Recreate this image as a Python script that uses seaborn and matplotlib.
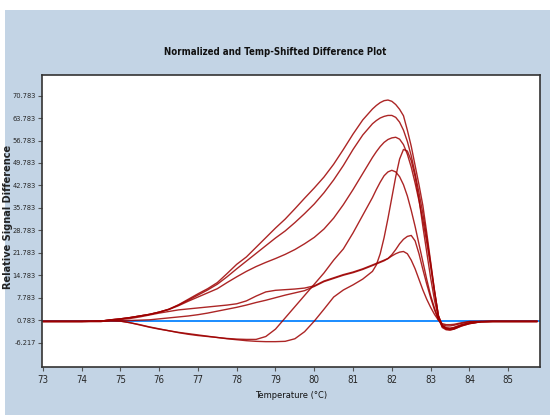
import numpy as np
import pandas as pd
import matplotlib
matplotlib.use("Agg")
import matplotlib.pyplot as plt
from matplotlib import font_manager
from matplotlib.patches import Rectangle
import seaborn as sns

# Temperatures (deg C) shared by all samples
temps = [73.0, 73.5, 74.0, 74.5, 74.75, 75.0, 75.25, 75.5, 75.75, 76.0, 76.25, 76.5, 76.75,
         77.0, 77.25, 77.5, 77.75, 78.0, 78.25, 78.5, 78.75, 79.0, 79.25, 79.5, 79.75,
         80.0, 80.25, 80.5, 80.75, 81.0, 81.25, 81.5, 81.6, 81.7, 81.8, 81.9, 82.0, 82.1,
         82.2, 82.3, 82.4, 82.5, 82.6, 82.7, 82.8, 82.9, 83.0, 83.1, 83.2, 83.3, 83.4,
         83.5, 83.6, 83.8, 84.0, 84.3, 84.6, 85.0, 85.4, 85.75]

sample_a = [0.4, 0.4, 0.4, 0.5, 0.9, 1.2, 1.6, 2.1, 2.6, 3.3, 4.2, 5.6, 7.3,
            9.0, 10.6, 12.5, 15.3, 18.2, 20.5, 23.5, 26.5, 29.5, 32.3, 35.5, 38.8,
            42.0, 45.4, 49.4, 54.0, 58.8, 63.2, 66.6, 67.7, 68.6, 69.2, 69.4, 69.0, 68.0,
            66.5, 64.5, 60.0, 55.0, 49.0, 43.0, 36.5, 28.0, 19.0, 10.0, 2.2, -0.8, -1.6,
            -1.8, -1.5, -0.6, 0.0, 0.4, 0.4, 0.4, 0.4, 0.4]

sample_b = [0.4, 0.4, 0.4, 0.5, 0.9, 1.2, 1.6, 2.1, 2.6, 3.3, 4.2, 5.5, 7.0,
            8.6, 10.2, 12.0, 14.3, 16.8, 19.2, 21.6, 24.0, 26.4, 28.6, 31.2, 34.0,
            37.0, 40.5, 44.5, 49.0, 54.0, 58.5, 62.0, 63.0, 63.8, 64.3, 64.6, 64.6, 64.0,
            62.5, 60.0, 56.5, 52.0, 46.5, 40.5, 34.0, 26.5, 18.5, 10.0, 2.2, -1.0, -1.8,
            -2.0, -1.8, -0.8, -0.2, 0.3, 0.4, 0.4, 0.4, 0.4]

sample_c = [0.4, 0.4, 0.4, 0.5, 0.9, 1.2, 1.6, 2.1, 2.6, 3.3, 4.1, 5.3, 6.7,
            8.0, 9.3, 10.6, 12.5, 14.3, 16.0, 17.5, 18.8, 20.0, 21.3, 22.8, 24.6,
            26.6, 29.2, 32.6, 36.8, 41.5, 46.5, 51.5, 53.3, 54.9, 56.2, 57.1, 57.6, 57.8,
            57.2, 55.5, 52.5, 48.5, 43.5, 38.0, 32.0, 25.0, 17.5, 9.5, 2.2, -1.2, -2.0,
            -2.2, -2.0, -1.0, -0.3, 0.3, 0.4, 0.4, 0.4, 0.4]

sample_d = [0.4, 0.4, 0.4, 0.4, 0.6, 0.5, 0.0, -0.7, -1.4, -2.0, -2.5, -3.0, -3.4,
            -3.8, -4.2, -4.6, -5.0, -5.3, -5.6, -5.8, -5.9, -5.9, -5.8, -5.0, -2.8,
            0.5, 4.2, 8.0, 10.2, 11.8, 13.6, 16.0, 18.0, 21.5, 26.5, 32.5, 39.0, 45.5,
            51.0, 54.0, 53.5, 50.5, 45.5, 38.5, 30.0, 22.0, 14.0, 7.0, 1.5, -1.5, -2.2,
            -2.3, -2.0, -1.0, -0.3, 0.3, 0.4, 0.4, 0.4, 0.4]

sample_e = [0.4, 0.4, 0.4, 0.4, 0.6, 0.5, 0.0, -0.6, -1.3, -1.9, -2.5, -3.1, -3.6,
            -4.0, -4.3, -4.6, -4.9, -5.1, -5.2, -5.2, -4.3, -2.0, 1.5, 5.0, 8.5,
            12.0, 15.5, 19.5, 23.0, 28.0, 33.5, 39.0, 41.5, 43.8, 45.8, 47.0, 47.5, 47.0,
            45.5, 43.0, 39.5, 35.0, 30.0, 24.5, 19.0, 13.5, 8.5, 4.5, 1.0, -1.0, -1.6,
            -1.7, -1.5, -0.7, -0.1, 0.3, 0.4, 0.4, 0.4, 0.4]

sample_f = [0.4, 0.4, 0.4, 0.4, 0.6, 0.7, 0.7, 0.8, 0.9, 1.2, 1.5, 1.8, 2.1,
            2.5, 3.0, 3.6, 4.2, 4.8, 5.5, 6.3, 7.0, 7.8, 8.6, 9.3, 10.0,
            11.3, 12.8, 13.8, 14.8, 15.6, 16.6, 17.8, 18.3, 18.8, 19.3, 20.0, 21.2, 22.8,
            24.6, 26.0, 26.9, 27.2, 25.5, 21.5, 16.6, 12.0, 7.8, 4.0, 1.0, -0.6, -1.0,
            -1.0, -0.8, -0.2, 0.3, 0.4, 0.4, 0.4, 0.4, 0.4]

sample_g = [0.4, 0.4, 0.4, 0.5, 0.8, 1.0, 1.3, 1.8, 2.4, 3.0, 3.5, 4.0, 4.3,
            4.6, 4.9, 5.2, 5.5, 5.9, 6.8, 8.3, 9.6, 10.1, 10.3, 10.5, 10.8,
            11.5, 13.0, 14.0, 15.0, 15.8, 16.8, 18.0, 18.5, 19.0, 19.5, 20.0, 20.8, 21.5,
            22.0, 22.2, 21.5, 19.5, 16.8, 13.5, 10.2, 7.3, 4.8, 2.6, 0.8, -0.3, -0.6,
            -0.6, -0.5, 0.0, 0.4, 0.4, 0.4, 0.4, 0.4, 0.4]

samples = {"A": sample_a, "B": sample_b, "C": sample_c, "D": sample_d,
           "E": sample_e, "F": sample_f, "G": sample_g}
reference_level = 0.4

yticks = [-6.217, 0.783, 7.783, 14.783, 21.783, 28.783, 35.783, 42.783,
          49.783, 56.783, 63.783, 70.783]
xticks = list(range(73, 86))

rows = []
for name, vals in samples.items():
    for t, v in zip(temps, vals):
        rows.append({"sample": name, "temp": t, "diff": v})
df = pd.DataFrame(rows)


def pick_narrow():
    # try a condensed face first, fall back to plain Liberation Sans
    for fam, stretch in [("Liberation Sans Narrow", "normal"),
                         ("DejaVu Sans", "condensed")]:
        try:
            fp = font_manager.FontProperties(family=fam, stretch=stretch)
            path = font_manager.findfont(fp, fallback_to_default=False)
            if "Narrow" in path or "Condensed" in path:
                return fam, stretch, 1.15
        except Exception:
            pass
    return "Liberation Sans", "normal", 1.0


sns.set_style("white")
nfam, nstretch, grow = pick_narrow()
plt.rcParams["font.family"] = [nfam, "DejaVu Sans"]
plt.rcParams["font.stretch"] = nstretch

fig = plt.figure(figsize=(5.5, 4.15), dpi=100, facecolor="white")
fig.patches.append(Rectangle((5 / 550, 0), 1, 1 - 10 / 415, transform=fig.transFigure,
                             facecolor="#c3d4e5", edgecolor="none", zorder=-10))
ax = fig.add_axes([42 / 550, 1 - 367 / 415, (540 - 42) / 550, (367 - 75) / 415])
ax.set_facecolor("white")

ax.axhline(reference_level, color="#1a8cff", lw=1.4, zorder=1)
sns.lineplot(data=df, x="temp", y="diff", units="sample", estimator=None,
             color="#9e0000", lw=1.0, alpha=0.85, ax=ax, zorder=2, sort=False)

ax.set_xlim(72.98, 85.82)
ax.set_ylim(-13.8, 77.2)
ax.set_xticks(xticks)
ax.set_yticks(yticks)
ax.set_xticklabels([str(t) for t in xticks])
ax.set_yticklabels([f"{v:.3f}" for v in yticks])
ax.tick_params(axis="both", which="major", direction="out", length=3, width=0.8,
               color="#555555", pad=1.5, bottom=True, left=True)
ax.tick_params(axis="y", labelsize=4.6 * grow)
ax.tick_params(axis="x", labelsize=6 * grow, pad=3)
for s in ax.spines.values():
    s.set_color("#333333")
    s.set_linewidth(1.2)

ax.set_xlabel("Temperature (°C)", fontsize=5.8 * grow, labelpad=4, color="#111111")
ax.set_ylabel("")
fig.text(8.5 / 550, 1 - 217 / 415, "Relative Signal Difference", rotation=90,
         ha="center", va="center", fontsize=7, fontweight="bold",
         family="DejaVu Sans", stretch="normal", color="#222222")
fig.text(0.5, 1 - 52 / 415, "Normalized and Temp-Shifted Difference Plot",
         ha="center", va="center", fontsize=6 * grow, fontweight="bold", color="#111111")

fig.savefig("out.png", dpi=100, facecolor=fig.get_facecolor())
